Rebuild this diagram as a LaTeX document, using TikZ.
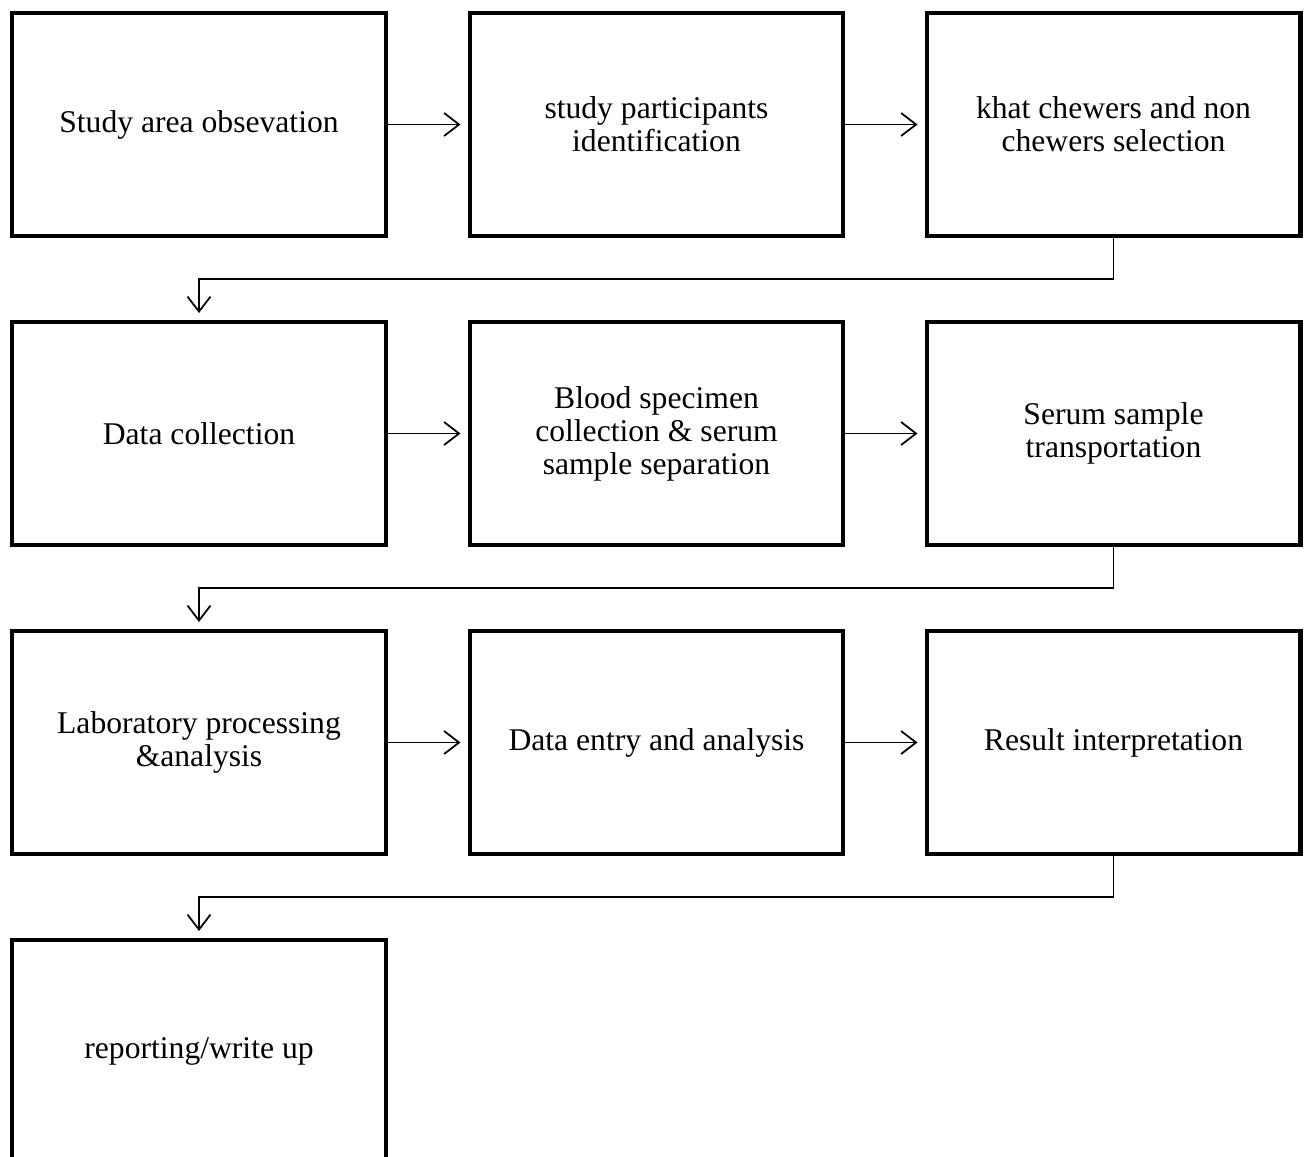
\documentclass[tikz,border=0pt]{standalone}
\usepackage{fontspec}
\setmainfont{Liberation Serif}
\usetikzlibrary{arrows.meta}
\begin{document}
\begin{tikzpicture}[x=0.02cm,y=-0.02cm,
    box/.style={draw,line width=2.3pt,minimum width=7.48cm,minimum height=4.46cm,
      inner sep=0pt,align=center,font=\fontsize{18}{18.8}\selectfont},
    arr/.style={line width=1pt,shorten >=0.14cm,
      -{Straight Barb[length=0.3cm,width=0.46cm,line width=1pt]}}]
  \useasboundingbox (0,0) rectangle (1308,1156);
  \draw
    (199,124.5) node[box] (1){Study area obsevation}
    (656.5,124.5) node[box] (2){study participants\\identification}
    (1113.5,124.5) node[box] (3){khat chewers and non\\chewers selection}
    (199,433.5) node[box] (4){Data collection}
    (656.5,433.5) node[box] (5){Blood specimen\\collection \& serum\\sample separation}
    (1113.5,433.5) node[box] (6){Serum sample\\transportation}
    (199,742.5) node[box] (7){Laboratory processing\\\&analysis}
    (656.5,742.5) node[box] (8){Data entry and analysis}
    (1113.5,742.5) node[box] (9){Result interpretation}
    (199,1051.5) node[box] (10){reporting/write up};
  \begin{scope}[arr]
    \draw (1) to (2);
    \draw (2) to (3);
    \draw (3.south) -- ++(0,41) -| (4);
    \draw (4) to (5);
    \draw (5) to (6);
    \draw (6.south) -- ++(0,41) -| (7);
    \draw (7) to (8);
    \draw (8) to (9);
    \draw (9.south) -- ++(0,41) -| (10);
  \end{scope}
\end{tikzpicture}
\end{document}
